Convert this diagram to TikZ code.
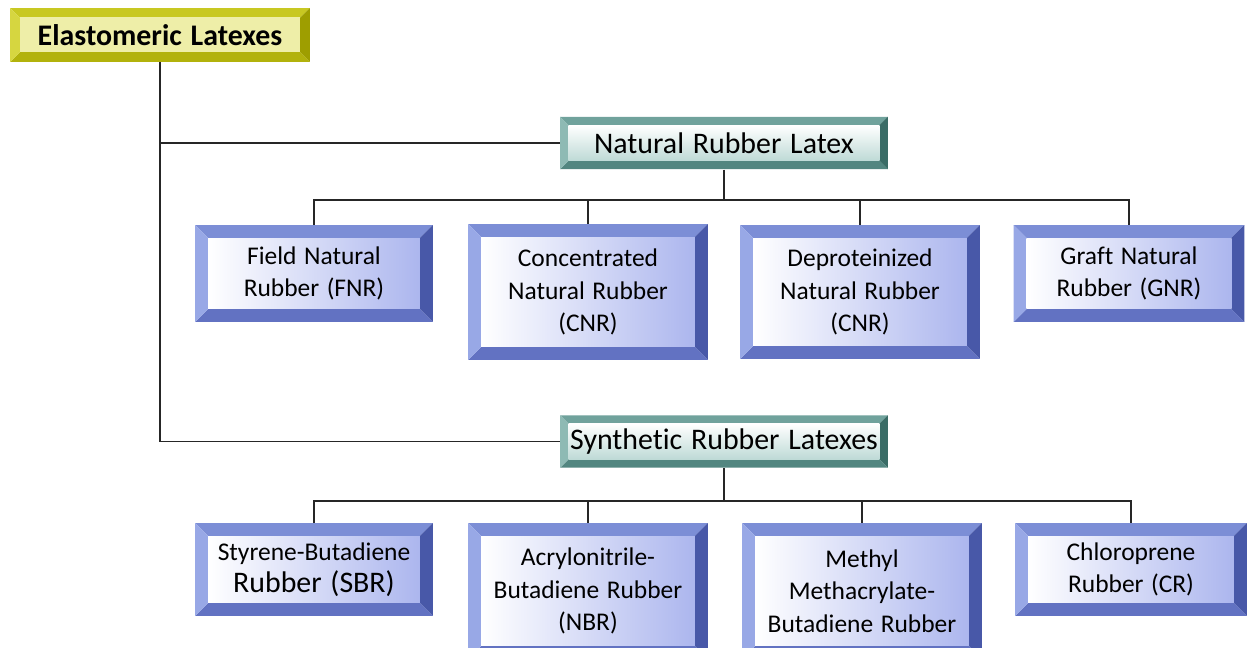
\documentclass[tikz,border=0pt]{standalone}
\usepackage{fontspec}
\setmainfont{Carlito}[Ligatures=NoCommon, WordSpace=1.3]
\usepackage{tikz}
\usetikzlibrary{calc,positioning}

\definecolor{leaftop}{RGB}{124,142,214}
\definecolor{leafleft}{RGB}{152,168,230}
\definecolor{leafright}{RGB}{72,88,168}
\definecolor{leafbottom}{RGB}{98,114,194}
\definecolor{leafshade}{RGB}{172,182,238}
\definecolor{grouptop}{RGB}{112,162,156}
\definecolor{groupleft}{RGB}{142,186,180}
\definecolor{groupright}{RGB}{58,108,102}
\definecolor{groupbottom}{RGB}{82,134,128}
\definecolor{groupshade}{RGB}{190,218,214}
\definecolor{roottop}{RGB}{200,200,34}
\definecolor{rootleft}{RGB}{214,214,64}
\definecolor{rootright}{RGB}{158,158,0}
\definecolor{rootbottom}{RGB}{178,178,12}
\definecolor{rootshade}{RGB}{238,238,168}

% bevelled face: #1 depth, #2 colour prefix
\def\bevel#1#2{%
	\path (path picture bounding box.north west) coordinate (bA)
		(path picture bounding box.north east) coordinate (bB)
		(path picture bounding box.south east) coordinate (bC)
		(path picture bounding box.south west) coordinate (bD)
		([shift={(#1,-#1)}]bA) coordinate (iA)
		([shift={(-#1,-#1)}]bB) coordinate (iB)
		([shift={(-#1,#1)}]bC) coordinate (iC)
		([shift={(#1,#1)}]bD) coordinate (iD);
	\fill[#2top] (bA) -- (bB) -- (iB) -- (iA) -- cycle;
	\fill[#2right] (bB) -- (bC) -- (iC) -- (iB) -- cycle;
	\fill[#2bottom] (bC) -- (bD) -- (iD) -- (iC) -- cycle;
	\fill[#2left] (bD) -- (bA) -- (iA) -- (iD) -- cycle;
	\shade[#2face] (iA) rectangle (iC);
}

\tikzset{
	leafface/.style={left color=white, right color=leafshade},
	groupface/.style={top color=white, bottom color=groupshade},
	rootface/.style={left color=rootshade, middle color=white, right color=rootshade},
	rootbox/.style={fill=white, inner sep=0pt, minimum width=6cm, minimum height=1.08cm,
		font=\bfseries\fontsize{17}{20}\selectfont, path picture={\bevel{0.2cm}{root}}},
	groupbox/.style={fill=white, inner sep=0pt, minimum width=6.56cm, minimum height=1.05cm,
		font=\fontsize{17}{20}\selectfont, path picture={\bevel{0.17cm}{group}}},
	leafbox/.style={fill=white, inner sep=0pt, minimum width=4.76cm, minimum height=1.94cm,
		align=center, font=\fontsize{14.5}{18.5}\selectfont, path picture={\bevel{0.26cm}{leaf}}},
	tallleaf/.style={leafbox, minimum width=4.8cm, minimum height=2.72cm},
	link/.style={line width=0.35mm, color=black!85}
}

\begin{document}
\begin{tikzpicture}[x=0.02cm, y=-0.02cm]
			%%%%% START %%%%%
			\clip (0, 0) rectangle (1249, 648);
			
			\node[rootbox] (root) at (160, 35) {Elastomeric Latexes};
			
			\node[groupbox] (natural) at (724, 143) {Natural Rubber Latex};
			\node[groupbox] (synthetic) at (724, 441.5) {Synthetic Rubber Latexes};
			
			\node[leafbox] (fnr) at (314, 273.5) {Field Natural\\Rubber (FNR)};
			\node[tallleaf] (cnr) at (588, 292) {Concentrated\\Natural Rubber\\(CNR)};
			\node[tallleaf, minimum height=2.68cm] (dpnr) at (860, 292) {Deproteinized\\Natural Rubber\\(CNR)};
			\node[leafbox, minimum width=4.62cm] (gnr) at (1129, 273.5) {Graft Natural\\Rubber (GNR)};
			
			\node[leafbox, minimum height=1.86cm] (sbr) at (314, 569.5) {Styrene-Butadiene\\{\fontsize{17}{20}\selectfont Rubber (SBR)}};
			\node[tallleaf] (nbr) at (588, 591) {Acrylonitrile-\\Butadiene Rubber\\(NBR)};
			\node[tallleaf] (mbr) at (862, 591) {Methyl\\Methacrylate-\\Butadiene Rubber};
			\node[leafbox, minimum width=4.64cm, minimum height=1.86cm] (cr) at (1131, 569.5) {Chloroprene\\Rubber (CR)};
			
			\coordinate (nbus) at (724, 200);
			\coordinate (sbus) at (724, 501);
			
			\draw[link] (root.south) |- (natural.west);
			\draw[link] (root.south) |- (synthetic.west);
			
			\draw[link] (natural.south) -- (nbus);
			\draw[link] (fnr.north) |- (nbus);
			\draw[link] (cnr.north) |- (nbus);
			\draw[link] (dpnr.north) |- (nbus);
			\draw[link] (gnr.north) |- (nbus);
			
			\draw[link] (synthetic.south) -- (sbus);
			\draw[link] (sbr.north) |- (sbus);
			\draw[link] (nbr.north) |- (sbus);
			\draw[link] (mbr.north) |- (sbus);
			\draw[link] (cr.north) |- (sbus);
			
			%%%%% END %%%%%
		\end{tikzpicture}
\end{document}
